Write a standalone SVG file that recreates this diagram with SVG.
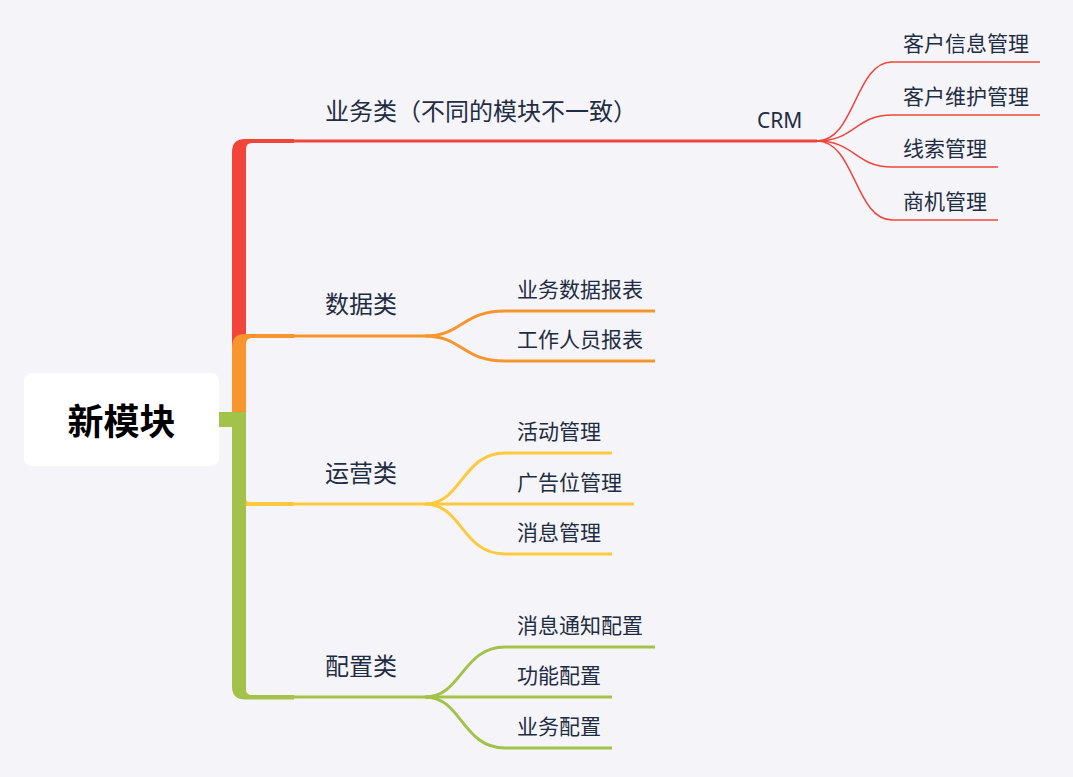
<svg xmlns="http://www.w3.org/2000/svg" width="1073" height="777" viewBox="0 0 1073 777">
<style>
.t{font-family:"Noto Sans CJK SC","Noto Sans",sans-serif;fill:#1f2d42}
.l1{font-size:24px}
.l2{font-size:21px}
.root{font-size:36px;font-weight:bold;fill:#000}
.crm{font-family:"Noto Sans","Noto Sans CJK SC",sans-serif;font-size:21px;fill:#1f2d42}
.red{stroke:#f1453b}
.org{stroke:#f8952e}
.yel{stroke:#fec93c}
.grn{stroke:#a3c24a}
.ln{fill:none;stroke-width:3;stroke-linecap:butt}
.thin{fill:none;stroke-width:1.5}
</style>
<rect width="1073" height="777" fill="#f5f4f9"/>
<g id="connectors">
  <path fill="#f1453b" d="M232,427 L232,152 Q232,139 245,139 L294,139 L294,143 L252,143 Q246,143 246,149 L246,427 Z"/>
  <path class="ln red" d="M294,141 L817,141"/>
  <path class="thin red" d="M817,141 C855,141 855,62 892,62 L1040,62"/>
  <path class="thin red" d="M817,141 C855,141 855,115 892,115 L1040,115"/>
  <path class="thin red" d="M817,141 C855,141 855,167 892,167 L998,167"/>
  <path class="thin red" d="M817,141 C855,141 855,220 892,220 L998,220"/>
  <path fill="#f8952e" d="M232,427 L232,347 Q232,334 245,334 L294,334 L294,338 L252,338 Q246,338 246,344 L246,427 Z"/>
  <path class="ln org" d="M294,336 L425,336"/>
  <path class="ln org" d="M425,336 C462,336 462,311 505,311 L655,311"/>
  <path class="ln org" d="M425,336 C462,336 462,361 505,361 L655,361"/>
  <path fill="#fec93c" d="M232,419 L246,419 L246,498 Q246,502 250,502 L294,502 L294,506 L232,506 Z"/>
  <path class="ln yel" d="M294,504 L634,504"/>
  <path class="ln yel" d="M425,504 C462,504 462,453 505,453 L612,453"/>
  <path class="ln yel" d="M425,504 C462,504 462,554 505,554 L612,554"/>
  <path fill="#a3c24a" d="M219,412 L246,412 L246,689 Q246,695 252,695 L294,695 L294,699.5 L245,699.5 Q232,699.5 232,686.5 L232,427 L219,427 Z"/>
  <path class="ln grn" d="M294,697 L612,697"/>
  <path class="ln grn" d="M425,697 C462,697 462,647 505,647 L655,647"/>
  <path class="ln grn" d="M425,697 C462,697 462,748 505,748 L612,748"/>
</g>
<g id="root">
  <rect x="24" y="373" width="195" height="93" rx="8" fill="#ffffff"/>
  <text class="t root" x="121.5" y="435" text-anchor="middle">新模块</text>
</g>
<g id="n-business"><text class="t l1" x="325" y="120">业务类（不同的模块不一致）</text></g>
<g id="n-crm"><text class="crm" x="757" y="128">CRM</text></g>
<g id="n-crm1"><text class="t l2" x="903" y="51">客户信息管理</text></g>
<g id="n-crm2"><text class="t l2" x="903" y="104">客户维护管理</text></g>
<g id="n-crm3"><text class="t l2" x="903" y="156">线索管理</text></g>
<g id="n-crm4"><text class="t l2" x="903" y="209">商机管理</text></g>
<g id="n-data"><text class="t l1" x="325" y="313">数据类</text></g>
<g id="n-data1"><text class="t l2" x="517" y="297">业务数据报表</text></g>
<g id="n-data2"><text class="t l2" x="517" y="347">工作人员报表</text></g>
<g id="n-ops"><text class="t l1" x="325" y="482">运营类</text></g>
<g id="n-ops1"><text class="t l2" x="517" y="439">活动管理</text></g>
<g id="n-ops2"><text class="t l2" x="517" y="490">广告位管理</text></g>
<g id="n-ops3"><text class="t l2" x="517" y="540">消息管理</text></g>
<g id="n-cfg"><text class="t l1" x="325" y="675">配置类</text></g>
<g id="n-cfg1"><text class="t l2" x="517" y="633">消息通知配置</text></g>
<g id="n-cfg2"><text class="t l2" x="517" y="683">功能配置</text></g>
<g id="n-cfg3"><text class="t l2" x="517" y="734">业务配置</text></g>
</svg>
